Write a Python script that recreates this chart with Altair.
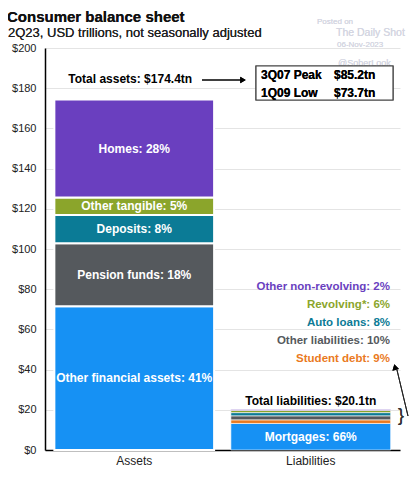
import altair as alt
import pandas as pd

FONT = "Liberation Sans"

# ---- data ----
asset_cats = ["Other financial assets", "Pension funds", "Deposits", "Other tangible", "Homes"]
asset_pcts = [41, 18, 8, 5, 28]
asset_vals = [71.5, 31.4, 14.0, 8.7, 48.8]

liab_cats = ["Mortgages", "Student debt", "Other liabilities", "Auto loans", "Revolving*", "Other non-revolving"]
liab_pcts = [66, 9, 10, 8, 6, 2]
liab_vals = [13.2, 1.8, 2.0, 1.6, 1.1, 0.4]

total_assets = 174.4
total_liabs = 20.1

peak_labels = ["3Q07 Peak", "1Q09 Low"]
peak_values = ["$85.2tn", "$73.7tn"]

title_text = "Consumer balance sheet"
subtitle_text = "2Q23, USD trillions, not seasonally adjusted"

cat_domain = ["Other financial assets", "Pension funds", "Deposits", "Other tangible", "Homes",
              "Mortgages", "Student debt", "Other liabilities", "Auto loans", "Revolving*", "Other non-revolving"]
cat_colors = ["#1691f4", "#55595d", "#0b7b96", "#8ba52b", "#6a3fbf",
              "#1691f4", "#ea7a1e", "#55595d", "#0b7b96", "#8ba52b", "#6a3fbf"]

# ---- tables ----
rows = []
for side, cats, vals, pcts in [("Assets", asset_cats, asset_vals, asset_pcts),
                               ("Liabilities", liab_cats, liab_vals, liab_pcts)]:
    cum = 0.0
    for i, (c, v, p) in enumerate(zip(cats, vals, pcts)):
        rows.append(dict(side=side, cat=c, idx=i, y0=cum, y1=cum + v, mid=cum + v / 2,
                         label=f"{c}: {p}%"))
        cum += v
df = pd.DataFrame(rows)

inbar = df[(df.side == "Assets") | (df.cat == "Mortgages")]
legend_df = df[(df.side == "Liabilities") & (df.cat != "Mortgages")].copy()
legend_df["ly"] = 45.3 + (legend_df["idx"] - 1) * 8.96

tot_df = pd.DataFrame(dict(side=["Assets", "Liabilities"], total=[total_assets, total_liabs],
                           label=[f"Total assets: ${total_assets}tn", f"Total liabilities: ${total_liabs}tn"]))

color = alt.Color("cat:N", scale=alt.Scale(domain=cat_domain, range=cat_colors), legend=None)

xenc = alt.X("side:N",
             scale=alt.Scale(domain=["Assets", "Liabilities"], paddingInner=0.095, paddingOuter=0.053),
             axis=alt.Axis(title=None, labelAngle=0, domainColor="black", domainWidth=1.5, ticks=False,
                           labelFontSize=12, labelColor="#222", labelPadding=5, labelFont=FONT))
yscale = alt.Scale(domain=[0, 200], nice=False)

bars = alt.Chart(df).mark_bar(stroke="white").encode(
    x=xenc,
    y=alt.Y("y0:Q", scale=yscale,
            axis=alt.Axis(title=None, values=list(range(0, 201, 20)), labelExpr="'$' + datum.value",
                          gridColor="#e4e4e4", domainColor="black", domainWidth=1.5, ticks=False,
                          labelFontSize=11, labelColor="#222", labelPadding=9, labelFont=FONT)),
    y2="y1:Q",
    color=color,
    strokeWidth=alt.condition(alt.datum.side == "Assets", alt.value(2), alt.value(0.6)),
)

bar_text = alt.Chart(inbar).mark_text(color="white", fontWeight="bold", fontSize=12, font=FONT).encode(
    x="side:N", y=alt.Y("mid:Q", scale=yscale), text="label:N")

legend_text = alt.Chart(legend_df).mark_text(fontWeight="bold", fontSize=11.5, font=FONT, align="right").encode(
    x=alt.value(345), y=alt.Y("ly:Q", scale=yscale), text="label:N", color=color)

tot_a = alt.Chart(tot_df[tot_df.side == "Assets"]).mark_text(
    fontWeight="bold", fontSize=12, font=FONT, color="black", dy=-20, dx=-4).encode(
    x="side:N", y=alt.Y("total:Q", scale=yscale), text="label:N")
tot_l = alt.Chart(tot_df[tot_df.side == "Liabilities"]).mark_text(
    fontWeight="bold", fontSize=12, font=FONT, color="black", dy=-9).encode(
    x="side:N", y=alt.Y("total:Q", scale=yscale), text="label:N")

# arrow from total assets to box
arrow1 = alt.Chart(tot_df).mark_rule(color="black", strokeWidth=1).encode(
    x=alt.value(157), x2=alt.value(196), y=alt.value(32))
head1 = alt.Chart(tot_df).mark_point(shape="triangle-right", filled=True, color="black", size=40, opacity=1).encode(
    x=alt.value(198), y=alt.value(32))

# watermark (drawn under the box)
wm = []
for txt, xx, yy, fs in [("Posted on", 272, -26, 8), ("The Daily Shot", 291, -15, 10.5),
                        ("06-Nov-2023", 292, -3, 8), ("@SoberLook", 293, 15, 9)]:
    wm.append(alt.Chart(tot_df).mark_text(text=txt, fontSize=fs, font=FONT, color="#d4d6e2", align="left").encode(
        x=alt.value(xx), y=alt.value(yy)))

box = alt.Chart(tot_df).mark_rect(fill="white", stroke="#444", strokeWidth=1.2).encode(
    x=alt.value(211), x2=alt.value(348), y=alt.value(18), y2=alt.value(52))

box_text = []
for i, (lab, val) in enumerate(zip(peak_labels, peak_values)):
    yy = 27 + i * 18
    box_text.append(alt.Chart(tot_df).mark_text(fontWeight="bold", fontSize=12, font=FONT, align="left",
                                                color="black", text=lab).encode(
        x=alt.value(216), y=alt.value(yy)))
    box_text.append(alt.Chart(tot_df).mark_text(fontWeight="bold", fontSize=12, font=FONT, align="left",
                                                color="black", text=val).encode(
        x=alt.value(289), y=alt.value(yy)))

# brace + arrow for liabilities
brace = alt.Chart(tot_df).mark_text(text="}", fontSize=18, font=FONT, color="#333").encode(
    x=alt.value(356), y=alt.value(368))
arrow2 = alt.Chart(tot_df).mark_rule(color="#222", strokeWidth=1).encode(
    x=alt.value(363), x2=alt.value(352), y=alt.value(368), y2=alt.value(322))
head2 = alt.Chart(tot_df).mark_point(shape="triangle-up", filled=True, color="black", size=45, opacity=1,
                                     angle=346).encode(x=alt.value(350), y=alt.value(319))

# title / subtitle as text
title = alt.Chart(tot_df).mark_text(text=title_text, fontSize=15, fontWeight="bold", font=FONT,
                                    color="#111", align="left", baseline="alphabetic").encode(
    x=alt.value(-38), y=alt.value(-26))
subtitle = alt.Chart(tot_df).mark_text(text=subtitle_text, fontSize=13, font=FONT,
                                       color="#222", align="left", baseline="alphabetic").encode(
    x=alt.value(-37), y=alt.value(-11))

chart = alt.layer(bars, bar_text, legend_text, tot_a, tot_l, *wm, arrow1, head1, box, *box_text,
                  brace, arrow2, head2, title, subtitle).properties(
    width=355, height=402,
    autosize=alt.AutoSizeParams(type="none"),
    padding={"left": 37, "top": 40, "right": 11, "bottom": 17},
).configure_view(stroke=None)

chart.save("out.html", embed_options={"renderer": "svg", "actions": False})
